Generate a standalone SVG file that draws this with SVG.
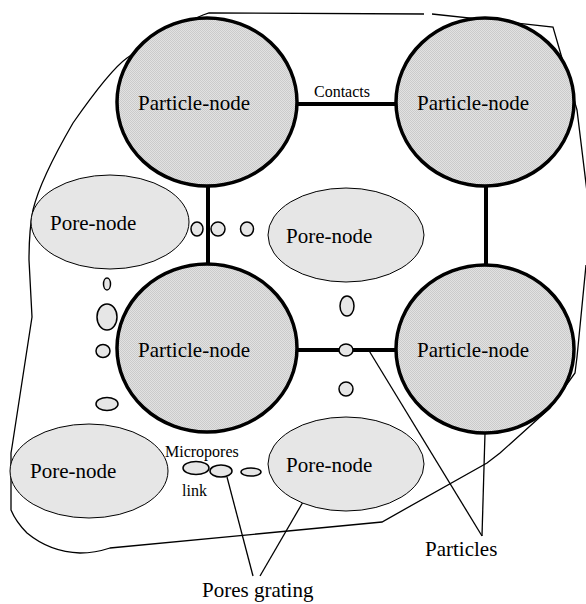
<svg xmlns="http://www.w3.org/2000/svg" width="586" height="604" viewBox="0 0 586 604">
<defs>
<pattern id="stip" width="2" height="2" patternUnits="userSpaceOnUse">
<rect width="2" height="2" fill="#e2e2e2"/>
<rect width="1" height="1" fill="#cbcbcb"/>
<rect x="1" y="1" width="1" height="1" fill="#cbcbcb"/>
</pattern>
<style>
.particle{fill:url(#stip);stroke:#000;stroke-width:3.5}
.pore{fill:#e6e6e6;stroke:#000;stroke-width:1}
.mp{fill:#e6e6e6;stroke:#000;stroke-width:1.5}
.contact{stroke:#000;stroke-width:4;fill:none}
.thin{stroke:#000;stroke-width:1.3;fill:none}
.big{font-family:"Liberation Serif","Times New Roman",serif;font-size:21px;fill:#000}
.small{font-family:"Liberation Serif","Times New Roman",serif;font-size:16px;fill:#000}
</style>
</defs>
<rect width="586" height="604" fill="#fff"/>

<g id="outline">
<path class="thin" d="M203,15 L209,13 L424,14 M432,14 L553,27 L577,110 L588,200 M586,265 L577,357 L575,373 L550,408 L500,453 L487,463 L382,522 L110,548 Q95,553 80,553 Q50,552 27,533 Q16,522 11,510 L11,453 L12,447 L32,317 L29,260 Q29,230 33,210 Q40,180 73,123 Q110,70 127,58 Q165,30 203,15"/>
</g>

<g id="connectors">
<line class="contact" x1="297" y1="104" x2="396" y2="104"/>
<line class="contact" x1="208" y1="187" x2="208" y2="265"/>
<line class="contact" x1="486" y1="187" x2="486" y2="265"/>
<line class="contact" x1="297" y1="350" x2="396" y2="350"/>
<line class="thin" x1="368" y1="349" x2="482" y2="536"/>
<line class="thin" x1="485" y1="433" x2="482" y2="536"/>
<line class="thin" x1="227" y1="477" x2="253" y2="576"/>
<line class="thin" x1="303" y1="502" x2="260" y2="576"/>
</g>

<g id="particle-tl"><ellipse class="particle" cx="207" cy="102" rx="90" ry="84"/><text class="big" x="138" y="110">Particle-node</text></g>
<g id="particle-tr"><ellipse class="particle" cx="485" cy="102" rx="89" ry="84"/><text class="big" x="417" y="110">Particle-node</text></g>
<g id="particle-ml"><ellipse class="particle" cx="207" cy="348" rx="90" ry="84"/><text class="big" x="138" y="357">Particle-node</text></g>
<g id="particle-mr"><ellipse class="particle" cx="485" cy="349" rx="89" ry="84"/><text class="big" x="417" y="357">Particle-node</text></g>

<g id="pore-tl"><ellipse class="pore" cx="110" cy="222" rx="79" ry="47"/><text class="big" x="50" y="230">Pore-node</text></g>
<g id="pore-c"><ellipse class="pore" cx="346" cy="235" rx="78" ry="47"/><text class="big" x="286" y="243">Pore-node</text></g>
<g id="pore-bl"><ellipse class="pore" cx="89" cy="471" rx="79" ry="47"/><text class="big" x="30" y="478">Pore-node</text></g>
<g id="pore-br"><ellipse class="pore" cx="346" cy="464" rx="78" ry="47"/><text class="big" x="286" y="472">Pore-node</text></g>

<g id="micropores">
<ellipse class="mp" cx="197" cy="229" rx="6" ry="7"/>
<ellipse class="mp" cx="218" cy="229" rx="7" ry="7"/>
<ellipse class="mp" cx="247" cy="229" rx="6.5" ry="7"/>
<ellipse class="mp" cx="107" cy="284" rx="3.5" ry="6"/>
<ellipse class="mp" cx="107" cy="317" rx="10" ry="13"/>
<ellipse class="mp" cx="103" cy="351" rx="7" ry="6.5"/>
<ellipse class="mp" cx="107" cy="404" rx="11" ry="6.5"/>
<ellipse class="mp" cx="347" cy="306" rx="7" ry="10"/>
<ellipse class="mp" cx="346" cy="350" rx="7" ry="6"/>
<ellipse class="mp" cx="346" cy="389" rx="7" ry="7"/>
<ellipse class="mp" cx="196" cy="468" rx="13" ry="6.5"/>
<ellipse class="mp" cx="221" cy="471" rx="11" ry="6"/>
<ellipse class="mp" cx="251" cy="472" rx="10" ry="4"/>
</g>

<g id="labels">
<text class="small" x="314" y="97">Contacts</text>
<text class="small" x="165" y="457">Micropores</text>
<text class="small" x="182" y="496">link</text>
<text class="big" x="425" y="556">Particles</text>
<text class="big" x="202" y="597">Pores grating</text>
</g>
</svg>
